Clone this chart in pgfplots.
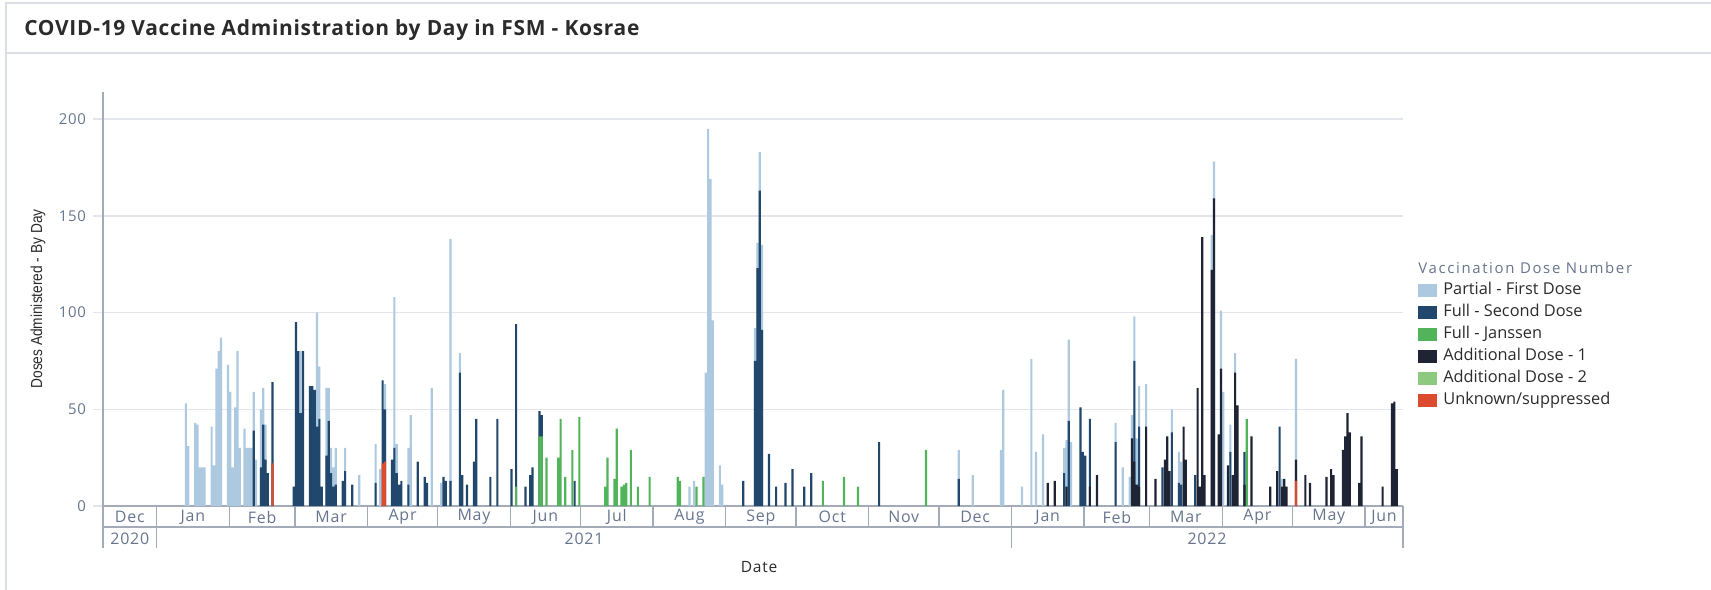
\documentclass[border=0pt]{standalone}
\usepackage{pgfplots}
\usepackage{pgfplotstable}
\pgfplotsset{compat=1.18}
\usepackage{fontspec}
\setmainfont{Open Sans}
\newfontfamily\narrowfont[FakeStretch=0.86]{Liberation Sans}
\newfontfamily\spacedfont[LetterSpace=5]{Open Sans}
\newfontfamily\widefont[LetterSpace=11]{Open Sans}
\newfontfamily\titlefont[LetterSpace=3.4]{Open Sans}
\definecolor{cLB}{HTML}{ACC9E0}
\definecolor{cNV}{HTML}{21476C}
\definecolor{cGR}{HTML}{52B45A}
\definecolor{cBK}{HTML}{1E2433}
\definecolor{cLG}{HTML}{8CCB7F}
\definecolor{cRD}{HTML}{DC4A30}
\definecolor{cGrid}{HTML}{E2E5EB}
\definecolor{cAxis}{HTML}{A3ABB8}
\definecolor{cTick}{HTML}{66748C}
\definecolor{cText}{HTML}{2B2B2B}
\definecolor{cBorder}{HTML}{DADDE3}
\pgfplotsset{swatch/.style={legend image code/.code={\path[##1] (0bp,-3.3bp) rectangle (9.5bp,3.3bp);}}}
% day index: 0 = 1 Jan 2021; values = top of each colour in the stacked bar
\pgfplotstableread{
d v
12 53
13 31
16 43
17 42
18 20
19 20
20 20
23 41
24 21
25 71
26 80
27 87
30 73
31 59
32 20
33 51
34 80
35 30
37 40
38 30
39 30
40 30
41 59
42 24
44 50
45 61
46 42
61 80
68 100
69 72
72 61
73 61
74 30
75 20
76 30
80 30
86 16
93 32
95 19
97 63
101 108
102 32
107 30
108 47
117 61
121 12
125 138
129 79
227 10
229 13
234 69
235 195
236 169
237 96
240 21
241 11
255 92
256 136
257 183
258 135
342 29
348 16
360 29
361 60
369 10
373 76
375 28
378 37
387 30
388 34
389 86
390 33
409 43
412 20
415 15
416 47
417 98
418 35
419 62
422 63
433 50
436 28
437 23
450 140
451 178
454 101
455 59
458 42
460 79
480 14
486 76
}\tabL
\pgfplotstableread{
d v
41 39
44 20
45 42
46 24
47 17
49 64
58 10
59 95
60 80
61 48
62 80
65 62
66 62
67 60
68 41
69 45
70 10
72 26
73 44
74 17
75 10
76 11
79 13
80 18
83 11
93 12
96 65
97 50
100 24
101 30
102 17
103 11
104 13
107 11
111 23
114 15
115 12
122 15
123 13
125 13
129 69
130 16
132 11
135 23
136 45
142 15
145 45
151 19
153 94
157 10
159 16
160 20
163 49
164 47
178 13
250 13
255 75
256 123
257 163
258 91
261 27
264 10
268 12
271 19
276 10
279 17
308 33
342 14
387 17
389 44
394 51
395 28
396 26
398 45
409 33
417 75
419 41
429 20
433 38
436 12
437 11
443 16
458 28
464 28
479 41
}\tabN
\pgfplotstableread{
d v
153 10
163 36
164 36
166 25
171 25
172 45
174 15
177 29
180 46
191 10
192 25
195 14
196 40
198 10
199 11
200 12
202 29
205 10
210 15
222 15
223 13
230 10
233 15
284 13
293 15
299 10
328 29
465 45
}\tabG
\pgfplotstableread{
d v
380 12
383 13
388 10
398 10
401 16
416 35
417 23
418 11
419 10
422 41
426 14
430 24
431 36
432 18
438 41
439 24
444 61
445 10
446 139
447 16
450 122
451 159
453 37
454 71
457 21
459 16
460 69
461 52
464 11
467 36
475 10
478 18
480 10
481 14
482 10
486 24
490 16
492 12
499 15
501 19
502 16
506 29
507 36
508 48
509 38
513 12
514 36
523 10
527 53
528 54
529 19
}\tabK
\pgfplotstableread{
d v
49 22
96 22
97 23
486 13
}\tabR
\begin{document}
\begin{tikzpicture}
\path[use as bounding box] (0bp,0bp) rectangle (855.5bp,295bp);
\draw[cBorder, line width=0.8bp] (3bp,0bp) -- (3bp,293.5bp) -- (855.5bp,293.5bp);
\draw[cBorder, line width=0.8bp] (3bp,268.5bp) -- (855.5bp,268.5bp);
\node[anchor=west, inner sep=0pt, font=\titlefont\bfseries\fontsize{10.5}{12}\selectfont, text=cText] at (12bp,280bp) {COVID-19 Vaccine Administration by Day in FSM - Kosrae};
\begin{axis}[
  at={(51.5bp,42bp)}, anchor=south west,
  scale only axis, width=650bp, height=207bp,
  xmin=-23.4, xmax=531.7, ymin=0, ymax=214,
  clip=false,
  axis x line*=bottom, axis y line*=left,
  axis line style={draw=cAxis, line width=0.7bp, -},
  ytick={0,50,100,150,200},
  ymajorgrids, grid style={draw=cGrid, line width=0.7bp},
  tick align=outside, major tick length=5bp,
  ytick style={draw=cGrid, line width=0.7bp},
  /pgf/number format/assume math mode=true,
  yticklabel style={font=\spacedfont\fontsize{7.5}{9}\selectfont, text=cTick},
  xtick=\empty,
  extra x ticks={-0.5,30.5,58.5,89.5,119.5,150.5,180.5,211.5,242.5,272.5,303.5,333.5,364.5,395.5,423.5,454.5,484.5,515.5},
  extra x tick labels={},
  extra x tick style={major tick length=10.5bp, tick style={draw=cAxis, line width=0.7bp}},
  ylabel={Doses Administered - By Day},
  every axis y label/.style={at={(rel axis cs:0,0.5)}, xshift=-32.5bp, rotate=90, anchor=center, font=\narrowfont\fontsize{8}{9}\selectfont, text=cText},
  xlabel={Date},
  every axis x label/.style={at={(rel axis cs:0.5,0)}, yshift=-30.5bp, xshift=3bp, anchor=center, font=\spacedfont\fontsize{7.8}{9}\selectfont, text=cText},
  legend style={at={(rel axis cs:1.0115,0.5425)}, anchor=north west, draw=none, fill=none, inner sep=0pt, row sep=2.4bp, column sep=2.5bp,
    font=\fontsize{8.2}{9}\selectfont, text=cText,
    nodes={inner sep=0.5bp, text height=6bp, text depth=1.6bp}},
  legend cell align=left,
]
\addplot[ybar, bar width=0.92, bar shift=0pt, fill=cLB, draw=none, swatch] table[x=d,y=v]{\tabL};
\addlegendentry{Partial - First Dose}
\addplot[ybar, bar width=0.92, bar shift=0pt, fill=cNV, draw=none, swatch] table[x=d,y=v]{\tabN};
\addlegendentry{Full - Second Dose}
\addplot[ybar, bar width=0.92, bar shift=0pt, fill=cGR, draw=none, swatch] table[x=d,y=v]{\tabG};
\addlegendentry{Full - Janssen}
\addplot[ybar, bar width=0.92, bar shift=0pt, fill=cBK, draw=none, swatch] table[x=d,y=v]{\tabK};
\addlegendentry{Additional Dose - 1}
\addlegendimage{fill=cLG, draw=none, swatch}
\addlegendentry{Additional Dose - 2}
\addplot[ybar, bar width=0.92, bar shift=0pt, fill=cRD, draw=none, swatch] table[x=d,y=v]{\tabR};
\addlegendentry{Unknown/suppressed}
% label-area rules
\draw[cAxis, line width=0.7bp] ([yshift=-10.5bp]axis cs:-23.4,0) -- ([yshift=-10.5bp]axis cs:531.7,0);
\draw[cAxis, line width=0.7bp] (axis cs:-23.4,0) -- ([yshift=-21.2bp]axis cs:-23.4,0);
\draw[cAxis, line width=0.7bp] (axis cs:531.7,0) -- ([yshift=-21.2bp]axis cs:531.7,0);
\draw[cAxis, line width=0.7bp] ([yshift=-10.5bp]axis cs:-0.5,0) -- ([yshift=-21.2bp]axis cs:-0.5,0);
\draw[cAxis, line width=0.7bp] ([yshift=-10.5bp]axis cs:364.5,0) -- ([yshift=-21.2bp]axis cs:364.5,0);
\tikzset{mlab/.style={anchor=center, inner sep=0pt, font=\spacedfont\fontsize{8}{9}\selectfont, text=cTick}}
\node[mlab] at ([yshift=-5.6bp]axis cs:-11.95,0) {Dec};
\node[mlab] at ([yshift=-5.6bp]axis cs:15,0) {Jan};
\node[mlab] at ([yshift=-5.6bp]axis cs:44.5,0) {Feb};
\node[mlab] at ([yshift=-5.6bp]axis cs:74,0) {Mar};
\node[mlab] at ([yshift=-5.6bp]axis cs:104.5,0) {Apr};
\node[mlab] at ([yshift=-5.6bp]axis cs:135,0) {May};
\node[mlab] at ([yshift=-5.6bp]axis cs:165.5,0) {Jun};
\node[mlab] at ([yshift=-5.6bp]axis cs:196,0) {Jul};
\node[mlab] at ([yshift=-5.6bp]axis cs:227,0) {Aug};
\node[mlab] at ([yshift=-5.6bp]axis cs:257.5,0) {Sep};
\node[mlab] at ([yshift=-5.6bp]axis cs:288,0) {Oct};
\node[mlab] at ([yshift=-5.6bp]axis cs:318.5,0) {Nov};
\node[mlab] at ([yshift=-5.6bp]axis cs:349,0) {Dec};
\node[mlab] at ([yshift=-5.6bp]axis cs:380,0) {Jan};
\node[mlab] at ([yshift=-5.6bp]axis cs:409.5,0) {Feb};
\node[mlab] at ([yshift=-5.6bp]axis cs:439,0) {Mar};
\node[mlab] at ([yshift=-5.6bp]axis cs:469.5,0) {Apr};
\node[mlab] at ([yshift=-5.6bp]axis cs:500,0) {May};
\node[mlab] at ([yshift=-5.6bp]axis cs:523.6,0) {Jun};
\node[mlab] at ([yshift=-16.2bp]axis cs:-11.95,0) {2020};
\node[mlab] at ([yshift=-16.2bp]axis cs:182,0) {2021};
\node[mlab] at ([yshift=-16.2bp]axis cs:448,0) {2022};
\end{axis}
\node[anchor=west, inner sep=0pt, font=\widefont\fontsize{7.5}{8}\selectfont, text=cTick] at (709bp,161bp) {Vaccination Dose Number};
\end{tikzpicture}
\end{document}
